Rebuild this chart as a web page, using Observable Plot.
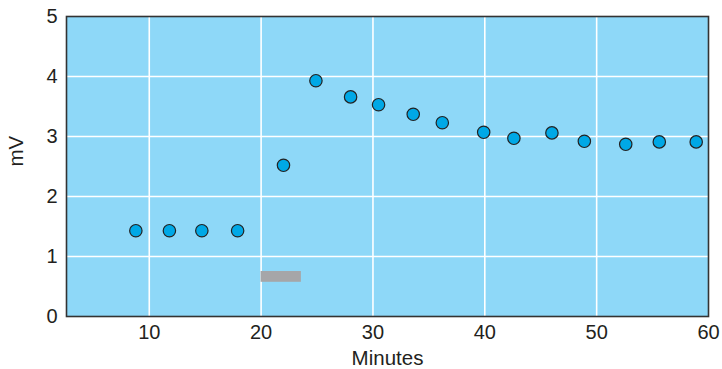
<!DOCTYPE html>
<html>
<head>
<meta charset="utf-8">
<script src="https://cdn.jsdelivr.net/npm/d3@7"></script>
<script src="https://cdn.jsdelivr.net/npm/@observablehq/plot@0.6"></script>
<style>
  html, body { margin: 0; padding: 0; background: #fff; }
</style>
</head>
<body>
<div id="chart"></div>
<script>
// Data
const minutes = [8.8, 11.8, 14.7, 17.9, 22.0, 24.9, 28.0, 30.5, 33.6, 36.2, 39.9, 42.6, 46.0, 48.9, 52.6, 55.6, 58.9];
const mv      = [1.43, 1.43, 1.43, 1.43, 2.52, 3.93, 3.66, 3.53, 3.37, 3.23, 3.07, 2.97, 3.06, 2.92, 2.87, 2.91, 2.91];
const xTicks = [10, 20, 30, 40, 50, 60];
const yTicks = [0, 1, 2, 3, 4, 5];
const xGrid = [10, 20, 30, 40, 50];
const yGrid = [1, 2, 3, 4];
const stimStart = [20];
const stimEnd = [23.6];
const stimLow = [0.57];
const stimHigh = [0.75];
const xLabel = "Minutes";
const yLabel = "mV";

const points = minutes.map((m, i) => ({m, v: mv[i]}));
const stim = stimStart.map((s, i) => ({x1: s, x2: stimEnd[i], y1: stimLow[i], y2: stimHigh[i]}));

const ink = "#231f20";
const chart = Plot.plot({
  width: 722,
  height: 369,
  marginLeft: 66,
  marginRight: 14,
  marginTop: 16,
  marginBottom: 53,
  x: {domain: [2.6, 60]},
  y: {domain: [0, 5]},
  style: {fontFamily: "'Liberation Sans', Arial, Helvetica, sans-serif", fontSize: "20px", color: ink, background: "#fff"},
  marks: [
    Plot.frame({fill: "#8ed8f8", stroke: null}),
    Plot.gridX(xGrid, {stroke: "#fff", strokeOpacity: 1, strokeWidth: 1.6}),
    Plot.gridY(yGrid, {stroke: "#fff", strokeOpacity: 1, strokeWidth: 1.6}),
    Plot.rect(stim, {x1: "x1", x2: "x2", y1: "y1", y2: "y2", fill: "#a6a6a8"}),
    Plot.dot(points, {x: "m", y: "v", r: 6.2, fill: "#00a8e6", stroke: "#222", strokeWidth: 1.2}),
    Plot.frame({stroke: "#333", strokeWidth: 1.6}),
    Plot.axisX(xTicks, {tickSize: 0, tickPadding: 8, label: null, fontSize: 20, tickFormat: "d"}),
    Plot.axisY(yTicks, {tickSize: 0, tickPadding: 9, label: null, fontSize: 20, tickFormat: "d"}),
    Plot.text([xLabel], {frameAnchor: "bottom", dy: 48, fontSize: 20.5, fill: ink}),
    Plot.text([yLabel], {frameAnchor: "left", dx: -50, rotate: -90, fontSize: 20.5, fill: ink})
  ]
});
document.getElementById("chart").appendChild(chart);
</script>
</body>
</html>
